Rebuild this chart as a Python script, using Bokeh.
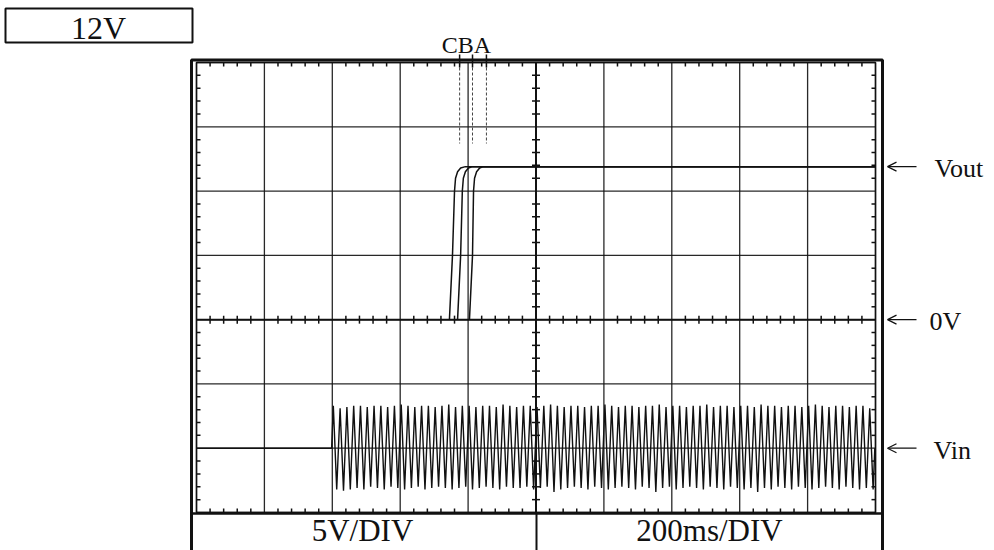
import numpy as np
from bokeh.plotting import figure
from bokeh.models import Range1d, Arrow, OpenHead
from bokeh.core.properties import value
from bokeh.embed import file_html
from bokeh.resources import INLINE

ms_per_div = 200
volts_per_div = 5
grid_t = [0, 200, 400, 600, 800, 1000, 1200, 1400, 1600, 1800, 2000]   # ms
grid_v = [-15, -10, -5, 0, 5, 10, 15, 20]                               # V (CH1 scale)

# Vout rising edges for the three cases (time ms, volts)
vout_c_t = [745, 754, 760, 763, 769, 778, 792, 2000]
vout_c_v = [0, 5, 10, 11, 11.5, 11.8, 11.9, 11.9]
vout_b_t = [769, 778, 783, 786, 792, 801, 813, 2000]
vout_b_v = [0, 5, 10, 11, 11.5, 11.8, 11.9, 11.9]
vout_a_t = [804, 813, 816, 819, 825, 834, 845, 2000]
vout_a_v = [0, 5, 10, 11, 11.5, 11.8, 11.9, 11.9]

cursor_names = ["C", "B", "A"]
cursor_t = [775, 813, 854]

# Vin: 50 Hz input switched on at ~400 ms, displayed on its own baseline
vin_start_ms = 398
vin_period_ms = 20
vin_offset_v = -10
vin_peak = [3.3, 3.1, 3.2, 3.3, 3.3, 3.2, 3.3, 3.3, 3.2, 3.3,
            3.4, 3.3, 3.2, 3.3, 3.3, 3.2, 3.3, 3.4, 3.2, 3.3,
            3.3, 3.2, 3.3, 3.3, 3.2, 3.4, 3.3, 3.2, 3.3, 3.3,
            3.2, 3.3, 3.4, 3.3, 3.2, 3.3, 3.3, 3.2, 3.3, 3.3,
            3.4, 3.3, 3.2, 3.3, 3.3, 3.2, 3.3, 3.3, 3.4, 3.2,
            3.3, 3.3, 3.2, 3.3, 3.3, 3.4, 3.2, 3.3, 3.3, 3.2,
            3.3, 3.3, 3.2, 3.4, 3.3, 3.3, 3.2, 3.3, 3.3, 3.2,
            3.3, 3.4, 3.3, 3.2, 3.3, 3.3, 3.2, 3.3, 3.3, 3.1]
vin_trough = [-3.2, -3.3, -3.2, -3.1, -3.2, -3.0, -3.1, -3.2, -3.0, -3.1,
              -3.2, -3.1, -3.0, -3.2, -3.1, -3.0, -3.1, -3.2, -3.1, -3.0,
              -3.2, -3.1, -3.0, -3.1, -3.2, -3.0, -3.1, -3.1, -3.0, -3.2,
              -3.1, -3.0, -3.4, -3.2, -3.1, -3.0, -3.1, -3.2, -3.0, -3.1,
              -3.2, -3.1, -3.0, -3.1, -3.2, -3.0, -3.1, -3.4, -3.1, -3.0,
              -3.2, -3.1, -3.0, -3.1, -3.2, -3.0, -3.1, -3.2, -3.0, -3.1,
              -3.2, -3.1, -3.4, -3.1, -3.2, -3.0, -3.1, -3.2, -3.0, -3.1,
              -3.2, -3.1, -3.0, -3.1, -3.2, -3.0, -3.1, -3.2, -3.1, -3.2]

channel_labels = ["Vout", "0V", "Vin"]
channel_levels = [11.9, 0, -10]
setting_labels = ["5V/DIV", "200ms/DIV"]
range_label = "12V"

# ---------------- geometry ----------------
W, H = 994, 550
GX0, GX1, GY0, GY1 = 196, 875, 62, 512        # grid box in canvas px
px_per_ms = (GX1 - GX0) / (grid_t[-1] - grid_t[0])
px_per_v = (GY1 - GY0) / (grid_v[-1] - grid_v[0])
zero_cy = GY0 + grid_v[-1] * px_per_v


def X(cx):
    return (cx - GX0) / px_per_ms


def Y(cy):
    return (zero_cy - cy) / px_per_v


p = figure(width=W, height=H, output_backend="svg", toolbar_location=None,
           x_range=Range1d(-GX0 / px_per_ms, (W - GX0) / px_per_ms),
           y_range=Range1d(-(H - zero_cy) / px_per_v, zero_cy / px_per_v),
           min_border=0, outline_line_color=None)
p.axis.visible = False
p.grid.visible = False
p.background_fill_color = "white"
p.border_fill_color = "white"

SERIF = value("Liberation Serif")
INK = "#111111"

t0, t1 = grid_t[0], grid_t[-1]
v0, v1 = grid_v[0], grid_v[-1]

# grid lines
p.segment(x0=grid_t, y0=v0, x1=grid_t, y1=v1, line_color=INK, line_width=1.3, line_alpha=0.9)
p.segment(x0=t0, y0=grid_v, x1=t1, y1=grid_v, line_color=INK, line_width=1.3, line_alpha=0.9)
# centre lines
p.segment(x0=[t0, (t0 + t1) / 2], y0=[0, v0], x1=[t1, (t0 + t1) / 2], y1=[0, v1],
          line_color=INK, line_width=2)

# minor tick marks
minor_t = [t for t in range(t0, t1 + 1, ms_per_div // 5) if t % ms_per_div]
minor_v = [v for v in range(v0, v1 + 1) if v % volts_per_div]
tlx = 4 / px_per_ms
tly = 4 / px_per_v
p.segment(x0=minor_t, y0=v1, x1=minor_t, y1=v1 - tly, line_color=INK, line_width=1.5)
p.segment(x0=minor_t, y0=v0, x1=minor_t, y1=v0 + tly, line_color=INK, line_width=1.5)
p.segment(x0=minor_t, y0=-tly, x1=minor_t, y1=tly, line_color=INK, line_width=1.5)
p.segment(x0=t0, y0=minor_v, x1=t0 + tlx, y1=minor_v, line_color=INK, line_width=1.5)
p.segment(x0=t1, y0=minor_v, x1=t1 - tlx, y1=minor_v, line_color=INK, line_width=1.5)
p.segment(x0=(t0 + t1) / 2 - tlx, y0=minor_v, x1=(t0 + t1) / 2 + tlx, y1=minor_v,
          line_color=INK, line_width=1.5)

# screen border
p.quad(left=t0, right=t1, bottom=v0, top=v1, fill_color=None, line_color=INK, line_width=1.5)

# outer frame and bottom info panel
p.quad(left=X(191), right=X(882), top=Y(59.5), bottom=Y(620), fill_color=None,
       line_color=INK, line_width=3)
p.segment(x0=X(191), y0=Y(513), x1=X(882), y1=Y(513), line_color=INK, line_width=2.5)
p.segment(x0=X(536), y0=Y(513), x1=X(536), y1=Y(620), line_color=INK, line_width=2)
p.text(x=[X(362), X(709)], y=[Y(530)] * 2, text=setting_labels, text_font=SERIF,
       text_font_size="31px", text_align="center", text_baseline="middle", text_color=INK)

# range box
p.quad(left=X(5), right=X(192), top=Y(8), bottom=Y(42), fill_color="white",
       line_color=INK, line_width=2)
p.text(x=[X(98)], y=[Y(27)], text=[range_label], text_font=SERIF, text_font_size="32px",
       text_align="center", text_baseline="middle", text_color=INK)

# cursors
p.segment(x0=cursor_t, y0=v1, x1=cursor_t, y1=Y(143), line_color="#444444",
          line_width=1, line_dash="3 2")
p.segment(x0=cursor_t, y0=Y(54), x1=cursor_t, y1=Y(67), line_color=INK, line_width=1.5)
p.text(x=[X(466)], y=[Y(44)], text=["".join(cursor_names)], text_font=SERIF,
       text_font_size="24px", text_align="center", text_baseline="middle", text_color=INK)

# Vout traces
for tt, vv in [(vout_c_t, vout_c_v), (vout_b_t, vout_b_v), (vout_a_t, vout_a_v)]:
    p.line(tt, vv, line_color=INK, line_width=1.5)

# Vin trace
vin_t = [t0, vin_start_ms]
vin_v = [0.0, 0.0]
for k, (hi, lo) in enumerate(zip(vin_peak, vin_trough)):
    base = vin_start_ms + k * vin_period_ms
    vin_t += [base + vin_period_ms / 4, base + 3 * vin_period_ms / 4]
    vin_v += [hi, lo]
vin_t.append(min(t1, vin_start_ms + len(vin_peak) * vin_period_ms))
vin_v.append(0.0)
p.line(vin_t, np.array(vin_v) + vin_offset_v, line_color=INK, line_width=1.4)

# channel markers on the right
for lab, lev in zip(channel_labels, channel_levels):
    p.add_layout(Arrow(end=OpenHead(size=9, line_width=1.2, line_color=INK),
                       x_start=X(916), y_start=lev, x_end=X(887), y_end=lev,
                       line_width=1.2, line_color=INK))
p.text(x=[X(934), X(929), X(933)], y=[lev - 2 / px_per_v for lev in channel_levels],
       text=channel_labels, text_font=SERIF,
       text_font_size="26px", text_align="left", text_baseline="middle", text_color=INK)

open("out.html", "w").write(file_html(p, INLINE))
